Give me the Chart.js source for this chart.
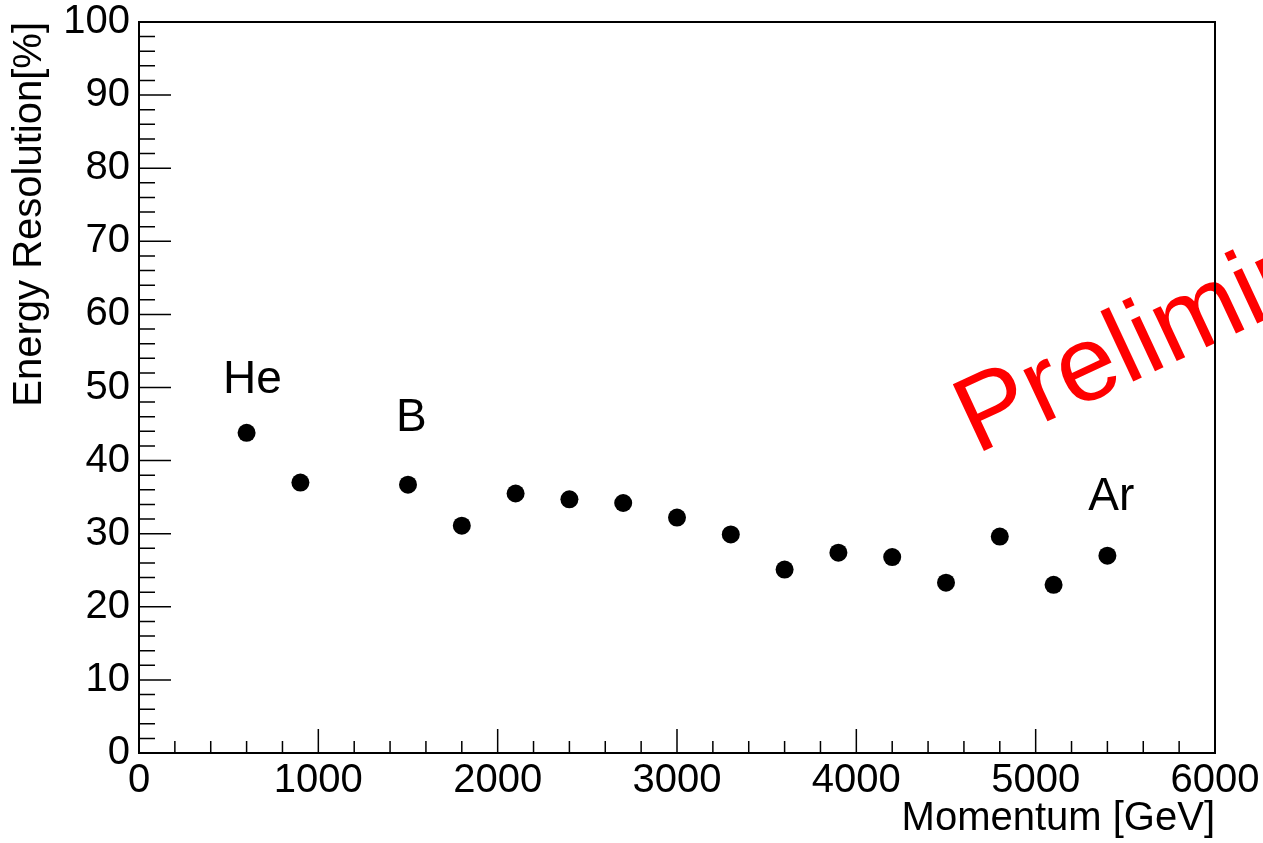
<!DOCTYPE html>
<html>
<head>
<meta charset="utf-8">
<title>Energy Resolution</title>
<script src="https://cdn.jsdelivr.net/npm/chart.js@4"></script>
<style>
  html, body { margin: 0; padding: 0; background: #fff; }
  #wrap { width: 1263px; height: 843px; position: relative; }
</style>
</head>
<body>
<div id="wrap"><canvas id="resChart"></canvas></div>
<script>
// data
const momentum = [600, 900, 1500, 1800, 2100, 2400, 2700, 3000, 3300, 3600, 3900, 4200, 4500, 4800, 5100, 5400];
const resolution = [43.8, 37.0, 36.7, 31.1, 35.5, 34.7, 34.2, 32.2, 29.9, 25.1, 27.4, 26.8, 23.3, 29.6, 23.0, 27.0];

// element annotations (data coords of text start / baseline)
const elementNames = ['He', 'B', 'Ar'];
const elementX = [468, 1433, 5293];
const elementY = [49.3, 44.0, 33.3];

const watermarkText = 'Preliminary';
const watermarkX = 4667;
const watermarkY = 40.8;

const xTitle = 'Momentum [GeV]';
const yTitle = 'Energy Resolution[%]';

const FONT = '"Liberation Sans", Arial, Helvetica, sans-serif';

// ROOT style frame with inward ticks + text overlays
const rootStyle = {
    id: 'rootStyle',
    beforeDraw(chart) {
        const ctx = chart.ctx;
        const x = chart.scales.x, y = chart.scales.y;
        ctx.save();
        // watermark, under the frame
        ctx.translate(x.getPixelForValue(watermarkX), y.getPixelForValue(watermarkY));
        ctx.rotate(-25 * Math.PI / 180);
        ctx.fillStyle = '#ff0000';
        ctx.font = '107px ' + FONT;
        ctx.textAlign = 'left';
        ctx.textBaseline = 'alphabetic';
        ctx.fillText(watermarkText, 0, 0);
        ctx.restore();
    },
    beforeDatasetsDraw(chart) {
        const ctx = chart.ctx;
        const a = chart.chartArea;
        const x = chart.scales.x, y = chart.scales.y;
        ctx.save();
        ctx.strokeStyle = '#000';
        ctx.lineWidth = 1.5;
        ctx.beginPath();
        for (let v = 0; v <= 6000; v += 200) {
            const px = x.getPixelForValue(v);
            const len = v % 1000 === 0 ? 24 : 12;
            ctx.moveTo(px, a.bottom);
            ctx.lineTo(px, a.bottom - len);
        }
        for (let v = 0; v <= 100; v += 2) {
            const py = y.getPixelForValue(v);
            const len = v % 10 === 0 ? 32 : 16;
            ctx.moveTo(a.left, py);
            ctx.lineTo(a.left + len, py);
        }
        ctx.stroke();
        ctx.lineWidth = 2;
        ctx.strokeRect(a.left, a.top, a.right - a.left, a.bottom - a.top);
        ctx.restore();
    },
    afterDatasetsDraw(chart) {
        const ctx = chart.ctx;
        const x = chart.scales.x, y = chart.scales.y;
        ctx.save();
        ctx.fillStyle = '#000';
        ctx.font = '46px ' + FONT;
        ctx.textAlign = 'left';
        ctx.textBaseline = 'alphabetic';
        elementNames.forEach((name, i) => {
            ctx.fillText(name, x.getPixelForValue(elementX[i]), y.getPixelForValue(elementY[i]));
        });
        ctx.restore();
    }
};

const resChart = new Chart(document.getElementById('resChart'), {
    type: 'scatter',
    data: {
        datasets: [{
            label: 'Energy resolution',
            data: momentum.map((m, i) => ({ x: m, y: resolution[i] })),
            backgroundColor: '#000',
            borderColor: '#000',
            borderWidth: 0,
            pointRadius: 9,
            pointHoverRadius: 9
        }]
    },
    options: {
        responsive: true,
        maintainAspectRatio: false,
        animation: false,
        events: [],
        layout: { padding: { left: 0, top: 22, right: 48, bottom: 0 } },
        plugins: {
            legend: { display: false },
            tooltip: { enabled: false }
        },
        scales: {
            x: {
                type: 'linear',
                min: 0,
                max: 6000,
                afterFit(scale) {
                    scale.height = 90;
                    scale.paddingLeft = 0;
                    scale.paddingRight = 0;
                },
                grid: { display: false, drawTicks: false },
                border: { display: false },
                ticks: {
                    stepSize: 1000,
                    padding: 4,
                    color: '#000',
                    maxRotation: 0,
                    callback: v => String(v),
                    font: { family: FONT, size: 40 }
                },
                title: {
                    display: true,
                    text: xTitle,
                    align: 'end',
                    color: '#000',
                    padding: { top: 0, bottom: 0 },
                    font: { family: FONT, size: 40 }
                }
            },
            y: {
                type: 'linear',
                min: 0,
                max: 100,
                afterFit(scale) {
                    scale.width = 139;
                    scale.paddingTop = 0;
                    scale.paddingBottom = 0;
                },
                grid: { display: false, drawTicks: false },
                border: { display: false },
                ticks: {
                    stepSize: 10,
                    padding: 9,
                    color: '#000',
                    callback: v => String(v),
                    font: { family: FONT, size: 40 }
                },
                title: {
                    display: true,
                    text: yTitle,
                    align: 'end',
                    color: '#000',
                    padding: { top: 6, bottom: 0 },
                    font: { family: FONT, size: 40 }
                }
            }
        }
    },
    plugins: [rootStyle]
});
</script>
</body>
</html>
